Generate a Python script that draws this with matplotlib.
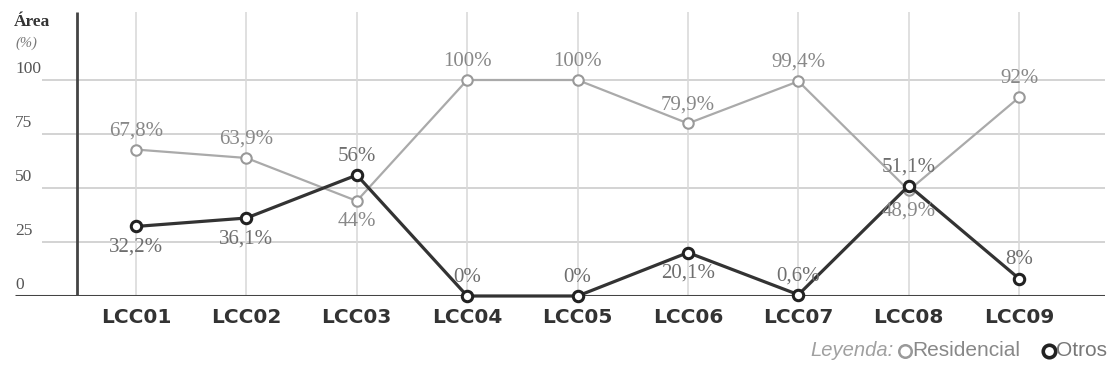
import matplotlib
matplotlib.use("Agg")
import matplotlib.pyplot as plt
from matplotlib.lines import Line2D

categories = ["LCC01", "LCC02", "LCC03", "LCC04", "LCC05", "LCC06", "LCC07", "LCC08", "LCC09"]
residencial = [67.8, 63.9, 44.0, 100.0, 100.0, 79.9, 99.4, 48.9, 92.0]
otros = [32.2, 36.1, 56.0, 0.0, 0.0, 20.1, 0.6, 51.1, 8.0]
residencial_labels = ["67,8%", "63,9%", "44%", "100%", "100%", "79,9%", "99,4%", "48,9%", "92%"]
otros_labels = ["32,2%", "36,1%", "56%", "0%", "0%", "20,1%", "0,6%", "51,1%", "8%"]
# +1 = label above the point, -1 = below
residencial_side = [1, 1, -1, 1, 1, 1, 1, -1, 1]
otros_side = [-1, -1, 1, 1, 1, -1, 1, 1, 1]
y_ticks = [0, 25, 50, 75, 100]

W, H = 1120, 378
fig = plt.figure(figsize=(W / 100, H / 100), dpi=100)

# axes spanning the baseline from px 15 to 1105, zero at px 296
x0_px, step_px = 136, 110.4
ax_left, ax_right = 15, 1105
zero_px, top_px = 296, 12
px_per_unit = 2.16
ax = fig.add_axes([ax_left / W, (H - zero_px) / H, (ax_right - ax_left) / W, (zero_px - top_px) / H])
ax.set_xlim((ax_left - x0_px) / step_px, (ax_right - x0_px) / step_px)
ax.set_ylim(0, (zero_px - top_px) / px_per_unit)
ax.axis("off")

def px_to_x(px):
    return (px - x0_px) / step_px

xs = list(range(len(categories)))

# grid
for v in y_ticks[1:]:
    ax.hlines(v, px_to_x(42), ax.get_xlim()[1], color="#d0d0d0", lw=1.3, zorder=1)
for x in xs:
    ax.vlines(x, 0, ax.get_ylim()[1], color="#dadada", lw=1.2, zorder=1)

# axes lines
ax.hlines(0, ax.get_xlim()[0], ax.get_xlim()[1], color="#444444", lw=2.2, zorder=2)
ax.vlines(px_to_x(77), 0, ax.get_ylim()[1], color="#444444", lw=2.0, zorder=2)

# y tick labels
serif = "Liberation Serif"
for v in y_ticks:
    ax.text(px_to_x(15), v + 1.2, str(v), family=serif, fontsize=12.5, color="#555555",
            ha="left", va="bottom", zorder=3)
ax.text(px_to_x(14), ax.get_ylim()[1] - 1, "Área", family=serif, fontsize=12.5, weight="bold",
        color="#333333", ha="left", va="top")
ax.text(px_to_x(15), ax.get_ylim()[1] - 11.5, "(%)", family=serif, fontsize=10.5, style="italic",
        color="#777777", ha="left", va="top")

# series
ax.plot(xs, residencial, color="#aaaaaa", lw=1.6, marker="o", ms=7.5, mfc="white",
        mec="#999999", mew=1.5, zorder=4, clip_on=False)
ax.plot(xs, otros, color="#333333", lw=2.3, marker="o", ms=7.5, mfc="white",
        mec="#222222", mew=2.2, zorder=5, clip_on=False)

for x, v, t, s in zip(xs, residencial, residencial_labels, residencial_side):
    ax.annotate(t, (x, v), xytext=(0, 13.5 if s > 0 else -15), textcoords="offset points",
                ha="center", va="center", family=serif, fontsize=15, color="#888888", zorder=6)
for x, v, t, s in zip(xs, otros, otros_labels, otros_side):
    ax.annotate(t, (x, v), xytext=(0, 13.5 if s > 0 else -15), textcoords="offset points",
                ha="center", va="center", family=serif, fontsize=15, color="#6e6e6e", zorder=6)

# category labels
for x, c in zip(xs, categories):
    ax.text(x, -10, c, ha="center", va="center", family="DejaVu Sans", weight="bold",
            fontsize=14.5, color="#333333", clip_on=False)

# legend
ly = 1 - 351 / H
sans = "Liberation Sans"
fig.text(810 / W, ly, "Leyenda:", family=sans, style="italic", fontsize=14.5,
         color="#a0a0a0", ha="left", va="center")
fig.add_artist(Line2D([905 / W], [ly], marker="o", ms=9, mfc="white", mec="#999999", mew=1.8,
                      transform=fig.transFigure))
fig.text(912 / W, ly, "Residencial", family=sans, fontsize=15, color="#888888",
         ha="left", va="center")
fig.add_artist(Line2D([1049 / W], [ly], marker="o", ms=9, mfc="white", mec="#222222", mew=2.6,
                      transform=fig.transFigure))
fig.text(1056 / W, ly, "Otros", family=sans, fontsize=15, color="#777777",
         ha="left", va="center")

fig.savefig("out.png", dpi=100, facecolor="white")
